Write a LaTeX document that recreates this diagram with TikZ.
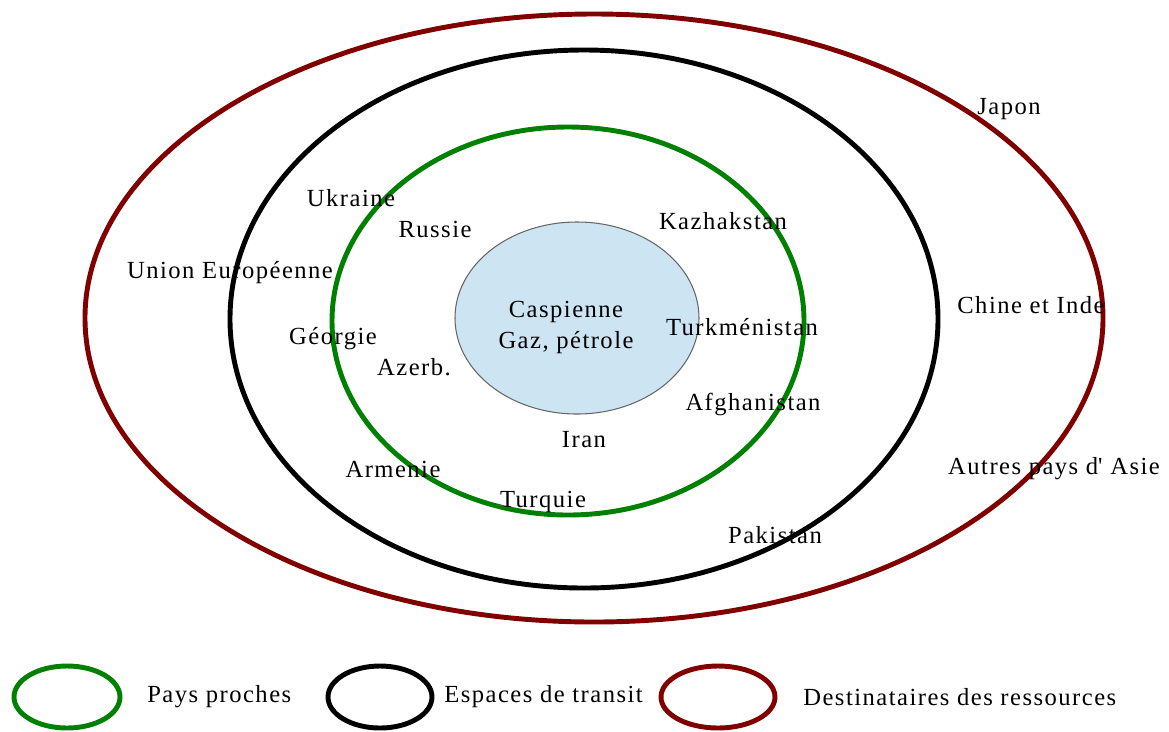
\documentclass[tikz,border=0pt]{standalone}
\usepackage{fontspec}
\setmainfont{Liberation Serif}[LetterSpace=6]
\usepackage{xcolor}
\definecolor{vertpays}{RGB}{0,128,0}
\definecolor{rougedest}{RGB}{128,0,0}
\definecolor{bleucasp}{RGB}{205,228,243}
\usepackage{tikz}

\begin{document}
\begin{tikzpicture}[x=0.02cm, y=-0.02cm, font=\fontsize{14}{16}\selectfont,
    anneau/.style={line width=2.8pt},
    lbl/.style={inner sep=0pt}]
  \useasboundingbox (0,0) rectangle (1169,731);
  % anneaux : destinataires, transit, pays proches, mer Caspienne
  \draw[anneau, rougedest] (594,318) ellipse (509 and 304);
  \draw[anneau, black]     (584,319) ellipse (354 and 269);
  \draw[anneau, vertpays]  (568,321) ellipse (236 and 194);
  \draw[fill=bleucasp, draw=gray!80!black, line width=0.6pt] (577,318) ellipse (122 and 96);
  % noms des pays
  \foreach \nom/\x/\y/\txt in {japon/1009/109/Japon, ukraine/351/198/Ukraine,
      russie/435/229/Russie, kazakh/723/221/Kazhakstan,
      ue/230/273/Union Européenne, chine/1031/305/Chine et Inde,
      caspienne/566/312/Caspienne, gaz/566/343/{Gaz, pétrole},
      turkm/742/327/Turkménistan, georgie/333/339/Géorgie,
      azerb/414/367/Azerb., afghan/753/404/Afghanistan, iran/584/440/Iran,
      armenie/393/469/Armenie, asie/1054/469/Autres pays d\textquotesingle{} Asie,
      turquie/543/502/Turquie, pakistan/775/535/Pakistan}{
    \node[lbl] (\nom) at (\x,\y) {\txt};
  }
  % legende
  \draw[anneau, vertpays]  (67,697)  ellipse (53 and 31);
  \draw[anneau, black]     (380,697) ellipse (52 and 31);
  \draw[anneau, rougedest] (718,697) ellipse (57 and 31);
  \node[lbl, anchor=west] (legvert)  at (147,697) {Pays proches};
  \node[lbl, anchor=west] (legnoir)  at (444,697) {Espaces de transit};
  \node[lbl, anchor=west] (legrouge) at (803,697) {Destinataires des ressources};
\end{tikzpicture}
\end{document}
